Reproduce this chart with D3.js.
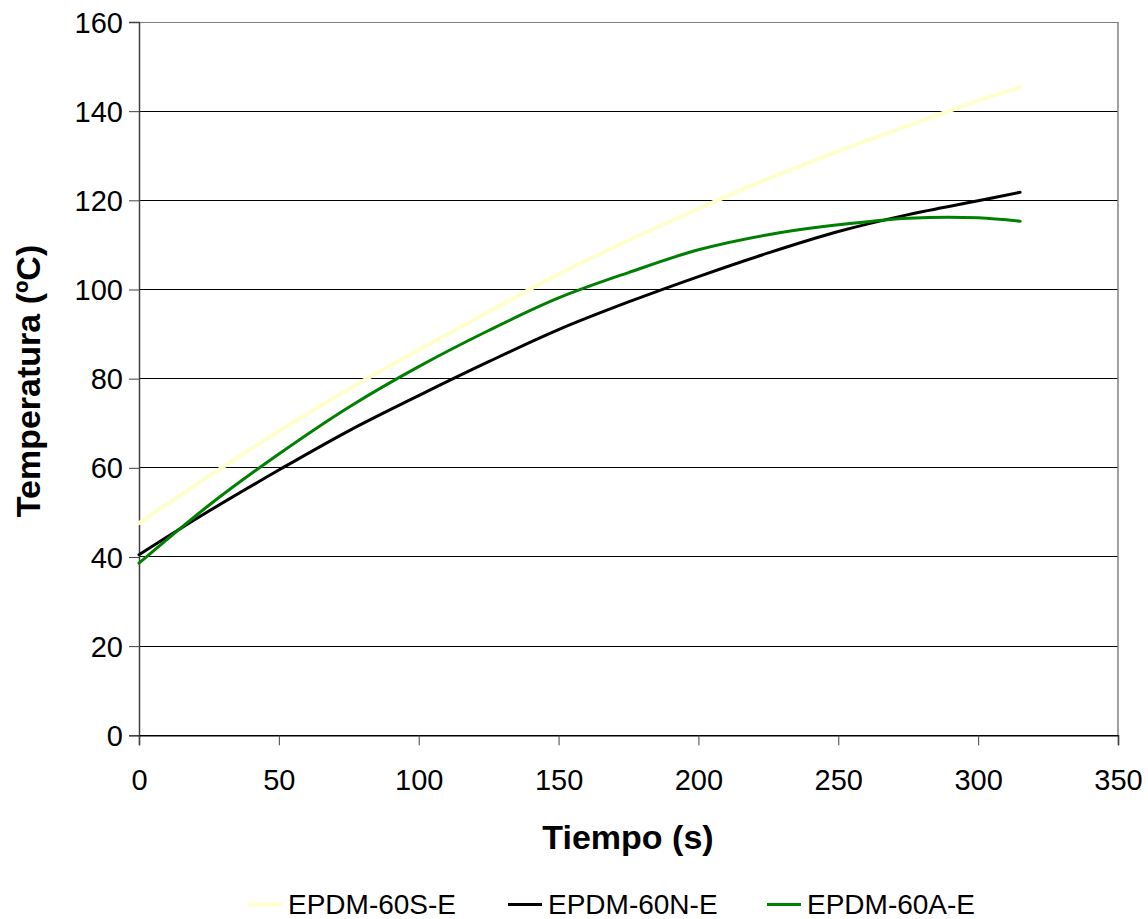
<!DOCTYPE html>
<html><head><meta charset="utf-8">
<script src="https://cdn.jsdelivr.net/npm/d3@7"></script>
<style>body{margin:0;background:#fff}svg{display:block}text{font-family:"Liberation Sans",Arial,sans-serif}</style>
</head><body>
<svg id="c" width="1148" height="919"></svg>
<script>
const time = [0,25,50,75,100,125,150,175,200,225,250,275,300,315];
const seriesS = [47.6,58.1,68.2,77.7,86.4,95.0,103.4,111.0,118.1,124.9,131.0,136.8,142.3,145.4];
const seriesN = [40.5,50.3,59.5,68.3,76.2,83.8,91.0,97.2,102.9,108.2,113.0,116.8,119.9,121.8];
const seriesA = [38.6,51.6,63.1,73.6,82.7,90.8,98.1,103.8,108.9,112.3,114.5,116.0,116.1,115.3];
const seriesNames = ["EPDM-60S-E","EPDM-60N-E","EPDM-60A-E"];
const seriesColors = ["#FFFFCC","#000000","#008000"];
const seriesWidths = [4,3,3];
const xTicks = [0,50,100,150,200,250,300,350];
const yTicks = [0,20,40,60,80,100,120,140,160];

const svg = d3.select("#c");
const L=139, R=1118, T=22, B=735.3;
const x = d3.scaleLinear().domain([0,350]).range([L,R]);
const y = d3.scaleLinear().domain([0,160]).range([B,T]);

// gridlines
svg.append("g").selectAll("line").data(yTicks.filter(v=>v>0)).join("line")
  .attr("x1",L).attr("x2",R).attr("y1",d=>y(d)).attr("y2",d=>y(d))
  .attr("stroke",d=>d===160?"#808080":"#000").attr("stroke-width",1).attr("shape-rendering","crispEdges");
// right border
svg.append("line").attr("x1",R).attr("x2",R).attr("y1",T).attr("y2",B)
  .attr("stroke","#808080").attr("stroke-width",1.5);

// y axis
const yAxis = svg.append("g").attr("transform",`translate(${L},0)`)
  .call(d3.axisLeft(y).tickValues(yTicks).tickSize(10).tickPadding(6));
yAxis.select(".domain").attr("stroke","#404040").attr("stroke-width",1.5);
yAxis.selectAll(".tick line").attr("stroke","#404040");
yAxis.selectAll("text").attr("font-size",29).attr("fill","#000").attr("dy","0.35em");

// x axis
const xAxis = svg.append("g").attr("transform",`translate(0,${B})`)
  .call(d3.axisBottom(x).tickValues(xTicks).tickSize(10).tickPadding(24));
xAxis.select(".domain").attr("stroke","#000").attr("stroke-width",1.5);
xAxis.selectAll(".tick line").attr("stroke","#404040");
xAxis.selectAll("text").attr("font-size",29).attr("fill","#000");

// lines
const all = [seriesS, seriesN, seriesA];
const line = d3.line().x(d=>x(d[0])).y(d=>y(d[1])).curve(d3.curveCatmullRom.alpha(0.5));
all.forEach((s,i)=>{
  svg.append("path").datum(time.map((t,j)=>[t,s[j]]))
    .attr("d",line).attr("fill","none").attr("stroke",seriesColors[i])
    .attr("stroke-width",seriesWidths[i]).attr("stroke-linecap","round");
});

// axis titles
svg.append("text").attr("x",628).attr("y",849).attr("text-anchor","middle")
  .attr("font-size",34).attr("font-weight","bold").text("Tiempo (s)");
svg.append("text").attr("transform","translate(40,381) rotate(-90)").attr("text-anchor","middle")
  .attr("font-size",34).attr("font-weight","bold").text("Temperatura (ºC)");

// legend
const legX = [248,508,767];
const lg = svg.append("g");
seriesNames.forEach((n,i)=>{
  lg.append("line").attr("x1",legX[i]).attr("x2",legX[i]+34).attr("y1",904.5).attr("y2",904.5)
    .attr("stroke",seriesColors[i]).attr("stroke-width",seriesWidths[i]);
  lg.append("text").attr("x",legX[i]+40).attr("y",914).attr("font-size",28).text(n);
});
</script>
</body></html>
